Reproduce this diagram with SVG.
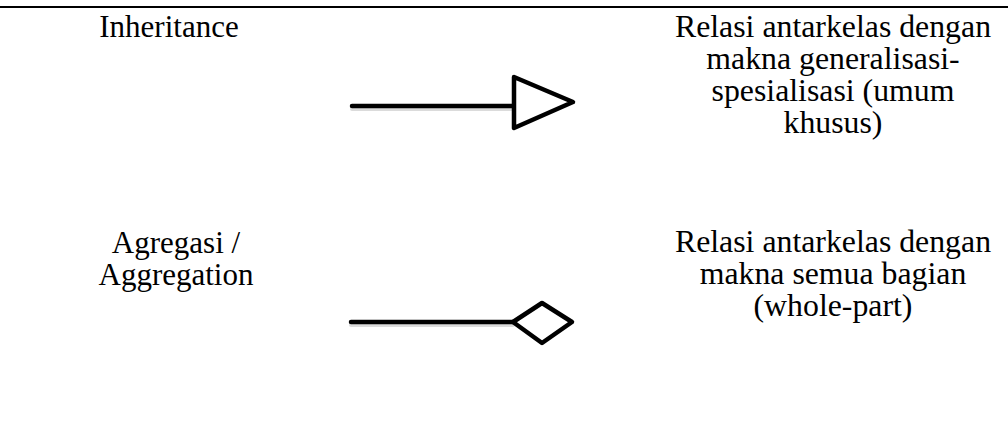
<svg xmlns="http://www.w3.org/2000/svg" width="1008" height="421" viewBox="0 0 1008 421">
<style>
.t{font-family:"Liberation Serif","Times New Roman",serif;font-size:31px;fill:#000;text-anchor:middle}
.r{font-size:31.8px}
.ln{stroke:#000;stroke-width:4.5;fill:none;stroke-linecap:round}
.hd{stroke:#000;stroke-width:4.5;fill:#fff;stroke-linejoin:round}
.sh{stroke:#999;stroke-width:4;fill:none;opacity:0.35;stroke-linecap:round}
</style>
<rect width="1008" height="421" fill="#fff"/>
<line x1="0" y1="7" x2="1008" y2="7" stroke="#000" stroke-width="2"/>
<g id="label-inheritance"><text class="t" x="169" y="37">Inheritance</text></g>
<g id="desc-inheritance"><text class="t r" x="833" y="37">Relasi antarkelas dengan</text><text class="t r" x="833" y="69">makna generalisasi-</text><text class="t r" x="833" y="101">spesialisasi (umum</text><text class="t r" x="833" y="133">khusus)</text></g>
<g id="label-aggregation"><text class="t" x="176" y="253">Agregasi /</text><text class="t" x="176" y="285">Aggregation</text></g>
<g id="desc-aggregation"><text class="t r" x="833" y="252">Relasi antarkelas dengan</text><text class="t r" x="833" y="284">makna semua bagian</text><text class="t r" x="833" y="316">(whole-part)</text></g>
<g id="connectors">
<line class="sh" x1="352" y1="109" x2="513" y2="109"/>
<line class="ln" x1="352" y1="106" x2="514" y2="106"/>
<polygon class="hd" points="514,77 573,102 514,128"/>
<line class="sh" x1="351" y1="325" x2="513" y2="325"/>
<line class="ln" x1="351" y1="322" x2="513" y2="322"/>
<polygon class="hd" points="513,322 542,303 572,322 542,343"/>
</g>
</svg>
